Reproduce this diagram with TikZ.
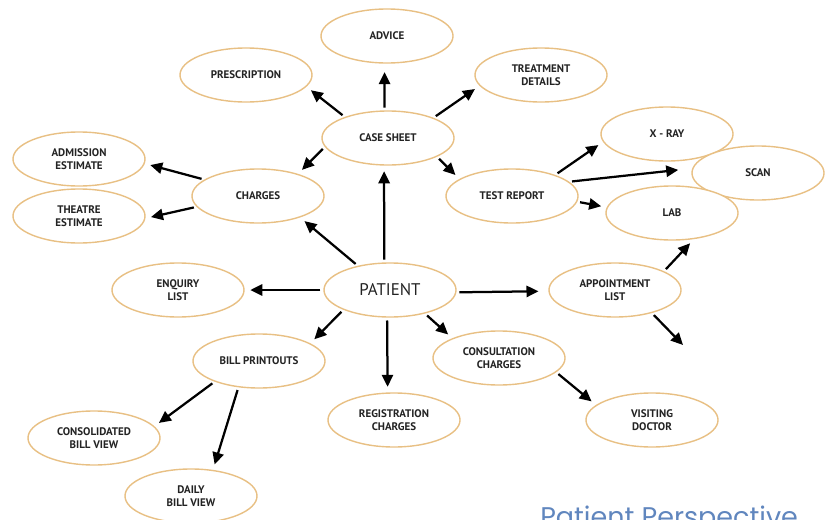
\documentclass[tikz,border=0pt]{standalone}
\usepackage{fontspec}
\setsansfont{PT Sans}
\newfontfamily\titlefont{Poppins}
\usetikzlibrary{arrows.meta,shapes.geometric}

\definecolor{rim}{RGB}{232,192,132}
\definecolor{ink}{RGB}{35,35,35}
\definecolor{titleblue}{RGB}{96,134,190}

\begin{document}
\begin{tikzpicture}[x=0.025cm, y=-0.025cm,
    bubble/.style={ellipse, draw=rim, line width=1pt, fill=white, minimum width=3.3cm,
      minimum height=1.35cm, inner sep=0pt, align=center, text=ink,
      font=\sffamily\bfseries\fontsize{7.8}{9.4}\selectfont},
    arr/.style={-{Triangle[length=3mm,width=2.8mm]}, line width=1.6pt, black,
      shorten >=4pt, shorten <=2pt}]
			\useasboundingbox (0,0) rectangle (830,520);
			% centre
			\node [bubble, font=\sffamily\fontsize{12}{14}\selectfont] (patient) at (390,290) {PATIENT};
			% upper part
			\node [bubble] (advice) at (387,36) {ADVICE};
			\node [bubble] (prescription) at (246,75) {PRESCRIPTION};
			\node [bubble] (treatment) at (541,75) {TREATMENT\\DETAILS};
			\node [bubble] (casesheet) at (388,138) {CASE SHEET};
			\node [bubble] (charges) at (258,196) {CHARGES};
			\node [bubble] (admission) at (79,159) {ADMISSION\\ESTIMATE};
			\node [bubble] (theatre) at (79,216) {THEATRE\\ESTIMATE};
			\node [bubble] (testreport) at (512,196) {TEST REPORT};
			\node [bubble] (xray) at (667,134) {X - RAY};
			\node [bubble] (scan) at (758,173) {SCAN};
			\node [bubble] (lab) at (672,213) {LAB};
			% lower part
			\node [bubble] (enquiry) at (178,290) {ENQUIRY\\LIST};
			\node [bubble] (appointment) at (615,290) {APPOINTMENT\\LIST};
			\node [bubble] (billprint) at (259,361) {BILL PRINTOUTS};
			\node [bubble] (consultation) at (499,358) {CONSULTATION\\CHARGES};
			\node [bubble] (registration) at (394,420) {REGISTRATION\\CHARGES};
			\node [bubble] (visiting) at (652,420) {VISITING\\DOCTOR};
			\node [bubble] (consolidated) at (94,438) {CONSOLIDATED\\BILL VIEW};
			\node [bubble] (daily) at (191,496) {DAILY\\BILL VIEW};
			\coordinate (apfree) at (683,345);
			% arrows
			\draw [arr, shorten >=6pt] (casesheet.97) -- (advice.265);
			\draw [arr] (casesheet.154) -- (prescription.349);
			\draw [arr] (casesheet.24) -- (treatment.190);
			\draw [arr] (casesheet.339) -- (testreport.162);
			\draw [arr] (casesheet.188) -- (charges.29);
			\draw [arr] (patient.102) -- (casesheet.262);
			\draw [arr] (patient.143) -- (charges.333);
			\draw [arr] (charges.163) -- (admission.356);
			\draw [arr] (charges.190) -- (theatre.358);
			\draw [arr] (testreport.26) -- (xray.187);
			\draw [arr, shorten >=10pt] (testreport.14) -- (scan.176);
			\draw [arr] (testreport.355) -- (lab.175);
			\draw [arr] (appointment.21) -- (lab.310);
			\draw [arr, shorten >=0pt] (appointment.328) -- (apfree);
			\draw [arr] (patient.180) -- (enquiry.0);
			\draw [arr] (patient.203) -- (billprint.19);
			\draw [arr] (patient.264) -- (registration.103);
			\draw [arr, shorten >=7pt] (patient.358) -- (appointment.181);
			\draw [arr] (patient.326) -- (consultation.157);
			\draw [arr] (consultation.346) -- (visiting.165);
			\draw [arr] (billprint.205) -- (consolidated.11);
			\draw [arr] (billprint.232) -- (daily.50);
			% caption
			\node [anchor=base west, inner sep=0pt, text=titleblue,
			  font=\titlefont\fontsize{19.2}{22}\selectfont] (caption) at (540,526) {Patient Perspective};
		\end{tikzpicture}
\end{document}
